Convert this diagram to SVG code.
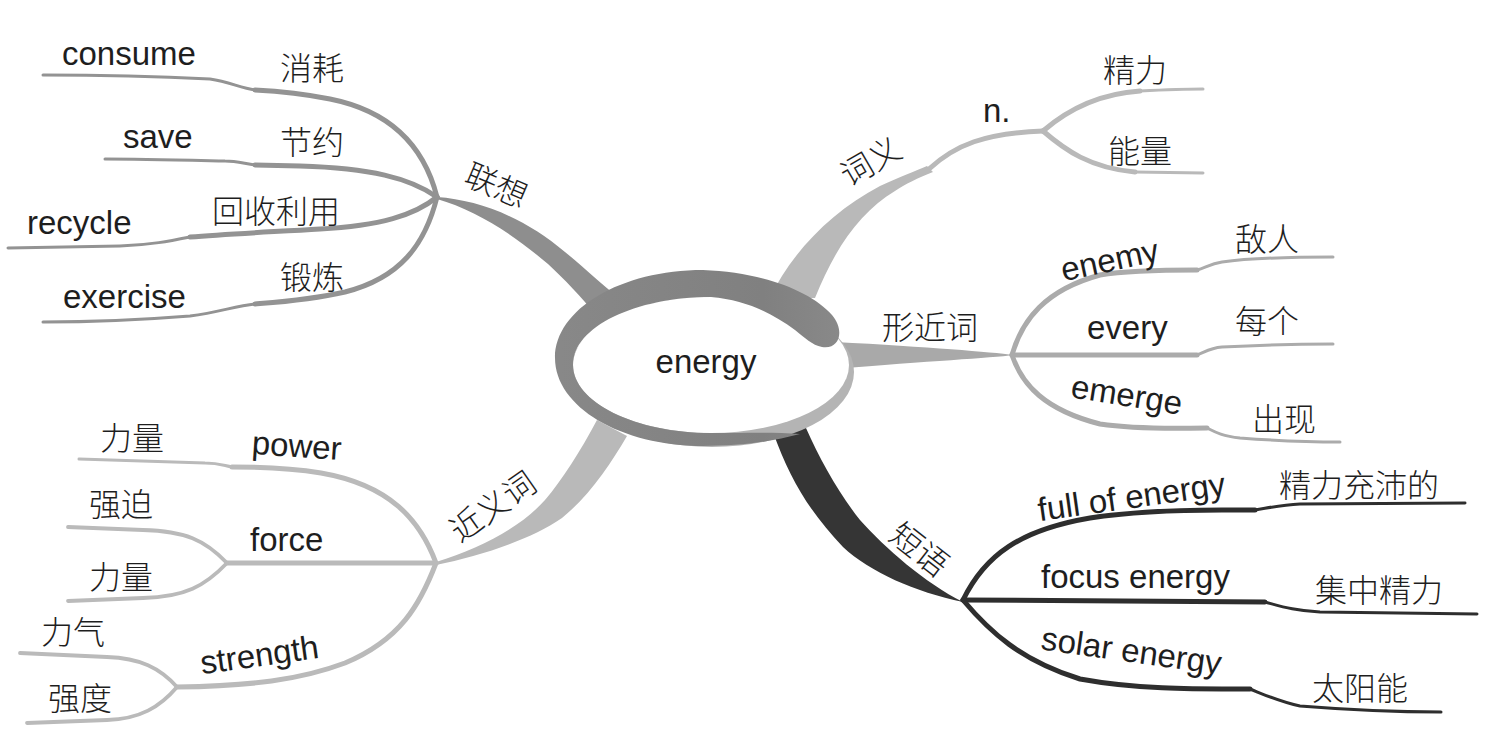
<svg xmlns="http://www.w3.org/2000/svg" width="1508" height="736" viewBox="0 0 1508 736">
<defs>
<linearGradient id="ring" x1="560" y1="0" x2="850" y2="0" gradientUnits="userSpaceOnUse">
<stop offset="0" stop-color="#888888"/><stop offset="0.7" stop-color="#808080"/><stop offset="1" stop-color="#8a8a8a"/>
</linearGradient>
<style>
.en{font-family:"Liberation Sans",Arial,Helvetica,sans-serif;font-size:33px;fill:#1e1e1e}
.zh{font-family:"Noto Sans CJK SC","Noto Sans CJK JP",sans-serif;font-size:32px;fill:#1e1e1e;font-weight:300}
.mid{text-anchor:middle}
.ln{fill:none;stroke-linecap:round;stroke-linejoin:round}
.w1{stroke-width:5}
.w2{stroke-width:3}
.w3{stroke-width:3.8}
.g1{stroke:#939393}.f1{fill:#8e8e8e}
.g2{stroke:#b9b9b9}.f2{fill:#b9b9b9}
.g3{stroke:#ababab}.f3{fill:#a9a9a9}
.g4{stroke:#bababa}.f4{fill:#b9b9b9}
.g5{stroke:#2e2e2e}.f5{fill:#353535}
</style>
</defs>
<rect width="1508" height="736" fill="#ffffff"/>
<g id="connectors">
<path class="f1" d="M437,197 C480,200 525,218 565,252 C585,268 605,288 628,305 L598,318 C580,295 565,280 548,264 C510,232 475,210 437,199 Z"/>
<path class="f2" d="M770,298 C790,255 830,212 880,186 C900,177 915,171 927,166 L933,172 C918,178 905,184 895,191 C860,212 835,248 815,298 Z"/>
<path class="ln g2 w1" d="M929,169 C955,145 985,133 1043,131"/>
<path class="f3" d="M835,342 C930,347 990,352 1014,355 C990,358 930,361 835,369 Z"/>
<path class="f4" d="M436,562 C480,548 520,528 545,500 C562,480 580,452 597,420 L627,436 C610,465 590,495 562,518 C530,540 480,556 436,565 Z"/>
<path class="f5" d="M773,432 C790,480 810,512 843,547 C870,572 915,592 963,602 C925,583 885,548 860,520 C840,495 820,460 806,428 Z"/>

<path class="ln g1 w1" d="M437,197 C425,150 395,112 330,99 C300,93 275,91 255,90"/>
<path class="ln g1 w2" d="M255,90 C240,88 230,82 210,79 C150,76 90,75 43,75"/>
<path class="ln g1 w1" d="M437,197 C410,178 370,168 300,166 L255,165"/>
<path class="ln g1 w2" d="M255,165 C242,163 236,161 225,161 C180,160 140,159 105,159"/>
<path class="ln g1 w1" d="M437,197 C415,215 380,226 320,229 C270,232 225,234 190,237"/>
<path class="ln g1 w2" d="M190,237 C170,241 150,245 120,246 L8,248"/>
<path class="ln g1 w1" d="M437,197 C425,245 400,278 345,292 C310,300 280,302 255,304"/>
<path class="ln g1 w2" d="M255,304 C235,306 220,312 190,316 C140,320 90,322 43,322"/>

<path class="ln g2 w1" d="M1043,131 C1065,112 1095,94 1140,91"/>
<path class="ln g2 w2" d="M1140,91 C1160,90 1180,89 1203,89"/>
<path class="ln g2 w1" d="M1043,131 C1065,150 1090,168 1135,172"/>
<path class="ln g2 w2" d="M1135,172 L1203,173"/>

<path class="ln g3 w1" d="M1012,355 C1022,320 1045,290 1100,275 C1130,270 1170,270 1197,270"/>
<path class="ln g3 w2" d="M1197,270 C1205,268 1210,264 1222,262 C1250,258 1290,257 1333,257"/>
<path class="ln g3 w1" d="M1012,355 L1197,355"/>
<path class="ln g3 w2" d="M1197,355 C1205,352 1210,348 1222,347 C1260,345 1300,344 1333,344"/>
<path class="ln g3 w1" d="M1012,355 C1022,385 1045,410 1100,424 C1140,430 1180,428 1207,428"/>
<path class="ln g3 w2" d="M1207,428 C1215,432 1222,436 1240,438 C1280,441 1310,442 1340,442"/>

<path class="ln g4 w1" d="M436,563 C420,520 390,485 321,473 C290,468 260,467 232,467"/>
<path class="ln g4 w2" d="M232,467 C222,465 218,463 205,463 L79,459"/>
<path class="ln g4 w1" d="M436,563 L227,563"/>
<path class="ln g4 w3" d="M227,563 C205,540 185,531 143,530 L68,527"/>
<path class="ln g4 w3" d="M227,563 C205,586 185,597 143,598 L68,601"/>
<path class="ln g4 w1" d="M436,563 C420,605 400,640 345,663 C300,680 250,686 177,687"/>
<path class="ln g4 w3" d="M177,687 C160,668 140,658 107,657 L20,653"/>
<path class="ln g4 w3" d="M177,687 C160,707 140,719 107,720 L27,723"/>

<path class="ln g5 w1" d="M963,600 C985,555 1020,530 1090,518 C1130,512 1180,510 1222,510 L1255,510"/>
<path class="ln g5 w2" d="M1255,510 C1268,508 1280,505 1300,504 L1465,503"/>
<path class="ln g5 w1" d="M963,600 L1265,602"/>
<path class="ln g5 w2" d="M1265,602 C1280,606 1295,611 1320,612 L1477,614"/>
<path class="ln g5 w1" d="M963,600 C990,632 1020,660 1080,679 C1140,690 1200,689 1250,689"/>
<path class="ln g5 w2" d="M1250,689 C1265,695 1280,702 1300,706 C1350,710 1400,712 1441,712"/>
</g>

<g id="center">
<ellipse cx="712" cy="372" rx="142" ry="75" fill="#b4b4b4"/>
<ellipse cx="711" cy="365" rx="138" ry="68" fill="#ffffff"/>
<path fill="url(#ring)" d="M800,434 C770,442 740,446 703,446 C621,446 555,407 555,358 C555,309 621,270 703,270 C760,272 810,290 832,315 C845,330 840,350 822,347 C812,345 805,338 795,330 C770,312 745,300 711,297 C635,297 573,327 573,365 C573,402 635,433 711,433 C745,433 775,432 800,434 Z"/>
<text class="en mid" x="706" y="373">energy</text>
</g>

<g id="lianxiang">
<text class="zh mid" transform="translate(496,186) rotate(23)" y="11">联想</text>
<text class="en" x="62" y="65">consume</text>
<text class="zh" x="280" y="80">消耗</text>
<text class="en" x="123" y="148">save</text>
<text class="zh" x="280" y="154">节约</text>
<text class="zh" x="212" y="223">回收利用</text>
<text class="en" x="27" y="234">recycle</text>
<text class="zh" x="280" y="289">锻炼</text>
<text class="en" x="63" y="308">exercise</text>
</g>

<g id="ciyi">
<text class="zh mid" transform="translate(871,162) rotate(-30)" y="11">词义</text>
<text class="en" x="983" y="122">n.</text>
<text class="zh" x="1103" y="82">精力</text>
<text class="zh" x="1108" y="163">能量</text>
</g>

<g id="xingjinci">
<text class="zh" x="882" y="339">形近词</text>
<text class="en mid" transform="translate(1112,271) rotate(-12)">enemy</text>
<text class="zh" x="1235" y="251">敌人</text>
<text class="en" x="1087" y="339">every</text>
<text class="zh" x="1235" y="333">每个</text>
<text class="en mid" transform="translate(1125,406) rotate(9)">emerge</text>
<text class="zh" x="1252" y="431">出现</text>
</g>

<g id="jinyici">
<text class="zh mid" transform="translate(493,507) rotate(-35)" y="11">近义词</text>
<text class="zh" x="100" y="450">力量</text>
<text class="en mid" transform="translate(296,457) rotate(4)">power</text>
<text class="zh" x="89" y="516">强迫</text>
<text class="en" x="250" y="551">force</text>
<text class="zh" x="89" y="589">力量</text>
<text class="zh" x="41" y="644">力气</text>
<text class="en mid" transform="translate(261,666) rotate(-8)">strength</text>
<text class="zh" x="48" y="710">强度</text>
</g>

<g id="duanyu">
<text class="zh mid" transform="translate(919,550) rotate(38)" y="11">短语</text>
<text class="en mid" transform="translate(1133,508) rotate(-8)">full of energy</text>
<text class="zh" x="1279" y="497">精力充沛的</text>
<text class="en" x="1041" y="588">focus energy</text>
<text class="zh" x="1315" y="602">集中精力</text>
<text class="en mid" transform="translate(1130,662) rotate(8)">solar energy</text>
<text class="zh" x="1312" y="700">太阳能</text>
</g>
</svg>
